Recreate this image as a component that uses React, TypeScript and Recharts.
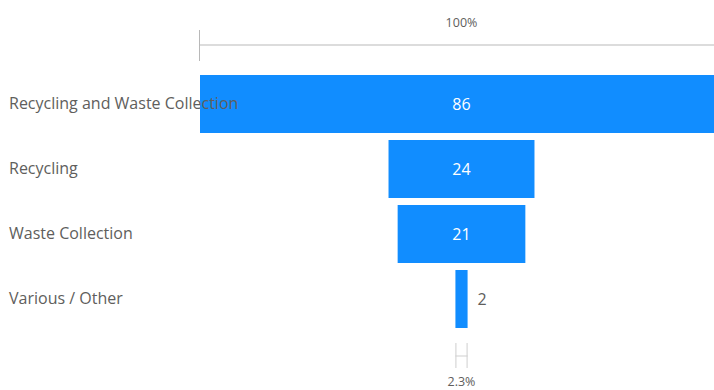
import { BarChart, Bar, XAxis, YAxis, LabelList } from "recharts";

const stages = ["Recycling and Waste Collection", "Recycling", "Waste Collection", "Various / Other"];
const counts = [86, 24, 21, 2];

const BLUE = "#118DFF";
const TEXT = "#605E5C";
const FONT = "'Open Sans', 'Noto Sans', sans-serif";

const top = Math.max(...counts);
const data = stages.map((name, i) => ({
  name,
  value: counts[i],
  pad: (top - counts[i]) / 2,
}));

const pct = (v: number) => {
  const p = (v / counts[0]) * 100;
  return (p % 1 === 0 ? p.toFixed(0) : p.toFixed(1)) + "%";
};

const ValueLabel = (props: any) => {
  const { x, y, width, height, value, index } = props;
  const cx = x + width / 2;
  const cy = y + height / 2;
  const inside = width > 30;
  const last = index === counts.length - 1;
  return (
    <g>
      <text
        x={inside ? cx : x + width + 10}
        y={cy}
        dy="0.35em"
        textAnchor={inside ? "middle" : "start"}
        fill={inside ? "#fff" : TEXT}
        fontSize={16}
        fontFamily={FONT}
      >
        {value}
      </text>
      {index === 0 && (
        <g>
          <line x1={x} x2={760} y1={y - 30} y2={y - 30} stroke="#dcdcdc" strokeWidth={2} />
          <line x1={x - 0.5} x2={x - 0.5} y1={y - 45} y2={y - 14} stroke="#b8b8b8" strokeWidth={1} />
          <text x={cx} y={y - 52} dy="0.35em" textAnchor="middle" fill={TEXT} fontSize={12.5} fontFamily={FONT}>
            {pct(value)}
          </text>
        </g>
      )}
      {last && (
        <g>
          <line x1={x + 0.5} x2={x + 0.5} y1={y + height + 15} y2={y + height + 40} stroke="#cfcfcf" />
          <line x1={x + width - 0.5} x2={x + width - 0.5} y1={y + height + 15} y2={y + height + 40} stroke="#cfcfcf" />
          <line x1={x} x2={x + width} y1={y + height + 28} y2={y + height + 28} stroke="#cfcfcf" />
          <text x={cx} y={y + height + 54} dy="0.35em" textAnchor="middle" fill={TEXT} fontSize={12.5} fontFamily={FONT}>
            {pct(value)}
          </text>
        </g>
      )}
    </g>
  );
};

const StageTick = (props: any) => {
  const { y, payload } = props;
  return (
    <text x={9} y={y} dy="0.35em" textAnchor="start" fill={TEXT} fontSize={16} fontFamily={FONT}>
      {payload.value}
    </text>
  );
};

export default function App() {
  return (
    <div style={{ position: "fixed", left: 0, top: 0, width: 714, height: 390, overflow: "hidden", background: "#fff" }}>
      <BarChart
        width={740}
        height={390}
        data={data}
        layout="vertical"
        margin={{ top: 71, right: 17, bottom: 59, left: 0 }}
        barSize={58}
      >
        <XAxis type="number" hide domain={[0, top]} />
        <Bar dataKey="pad" stackId="f" fill="transparent" isAnimationActive={false} />
        <Bar dataKey="value" stackId="f" fill={BLUE} isAnimationActive={false}>
          <LabelList dataKey="value" content={<ValueLabel />} />
        </Bar>
        <YAxis
          type="category"
          dataKey="name"
          width={200}
          axisLine={false}
          tickLine={false}
          tick={<StageTick />}
        />
      </BarChart>
    </div>
  );
}
